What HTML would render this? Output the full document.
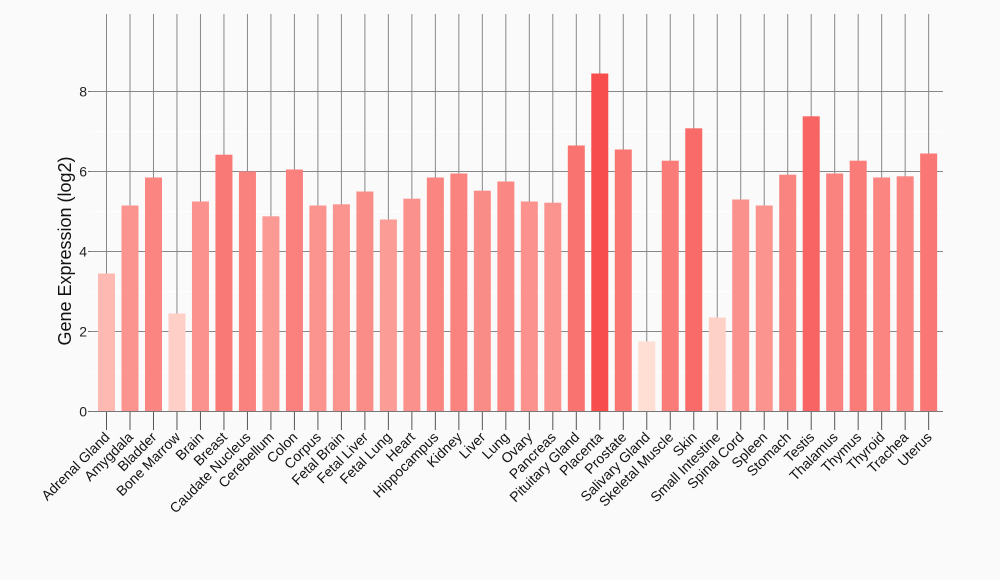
<!DOCTYPE html>
<html><head><meta charset="utf-8">
<style>html,body{margin:0;padding:0;background:#fafafa;}svg{display:block;font-family:"Liberation Sans",sans-serif;}</style>
</head><body>
<svg id="c" width="1000" height="580" xmlns="http://www.w3.org/2000/svg"></svg>
<script>
const d=[["Adrenal Gland",3.45],["Amygdala",5.15],["Bladder",5.85],["Bone Marrow",2.45],["Brain",5.25],["Breast",6.42],["Caudate Nucleus",6.0],["Cerebellum",4.88],["Colon",6.05],["Corpus",5.15],["Fetal Brain",5.18],["Fetal Liver",5.5],["Fetal Lung",4.8],["Heart",5.32],["Hippocampus",5.85],["Kidney",5.95],["Liver",5.52],["Lung",5.75],["Ovary",5.25],["Pancreas",5.22],["Pituitary Gland",6.65],["Placenta",8.45],["Prostate",6.55],["Salivary Gland",1.75],["Skeletal Muscle",6.27],["Skin",7.08],["Small Intestine",2.35],["Spinal Cord",5.3],["Spleen",5.15],["Stomach",5.92],["Testis",7.38],["Thalamus",5.95],["Thymus",6.27],["Thyroid",5.85],["Trachea",5.88],["Uterus",6.45]];
let s='';
const y0=411.5,k=40,L=90,R=943,x0=106.5,dx=23.49,bw=17;
const Y=v=>y0-v*k;
for(let v=1;v<8;v+=2)s+=`<line x1="${L}" x2="${R}" y1="${Y(v)}" y2="${Y(v)}" stroke="#fff" stroke-width="1"/>`;
for(let v=0;v<=8;v+=2){s+=`<line x1="${L}" x2="${R}" y1="${Y(v)}" y2="${Y(v)}" stroke="#888" stroke-width="1"/><line x1="88" x2="${L}" y1="${Y(v)}" y2="${Y(v)}" stroke="#666"/><text x="87" y="${Y(v)+5}" font-size="14" text-anchor="end" fill="#222">${v}</text>`;}
d.forEach((e,i)=>{const x=x0+i*dx;s+=`<line x1="${x}" x2="${x}" y1="14" y2="${y0}" stroke="#888"/>`;});
d.forEach((e,i)=>{const x=x0+i*dx,v=e[1];const t=(v-1.75)/(8.45-1.75);
const r=Math.round(255-8*t),g=Math.round(222-145*t),b=Math.round(212-135*t);
s+=`<rect x="${x-bw/2}" y="${Y(v)}" width="${bw}" height="${v*k}" fill="rgb(${r},${g},${b})"/>`;
s+=`<line x1="${x}" x2="${x}" y1="${y0}" y2="430" stroke="#555"/>`;
s+=`<text transform="translate(${x+4},${438}) rotate(-45)" font-size="14" text-anchor="end" fill="#111">${e[0]}</text>`;});
s+=`<line x1="${L}" x2="${R}" y1="${y0}" y2="${y0}" stroke="#777"/>`;
s+=`<text transform="translate(71,251) rotate(-90)" font-size="18" text-anchor="middle" fill="#111">Gene Expression (log2)</text>`;
document.getElementById('c').innerHTML=s;
</script>
</body></html>
